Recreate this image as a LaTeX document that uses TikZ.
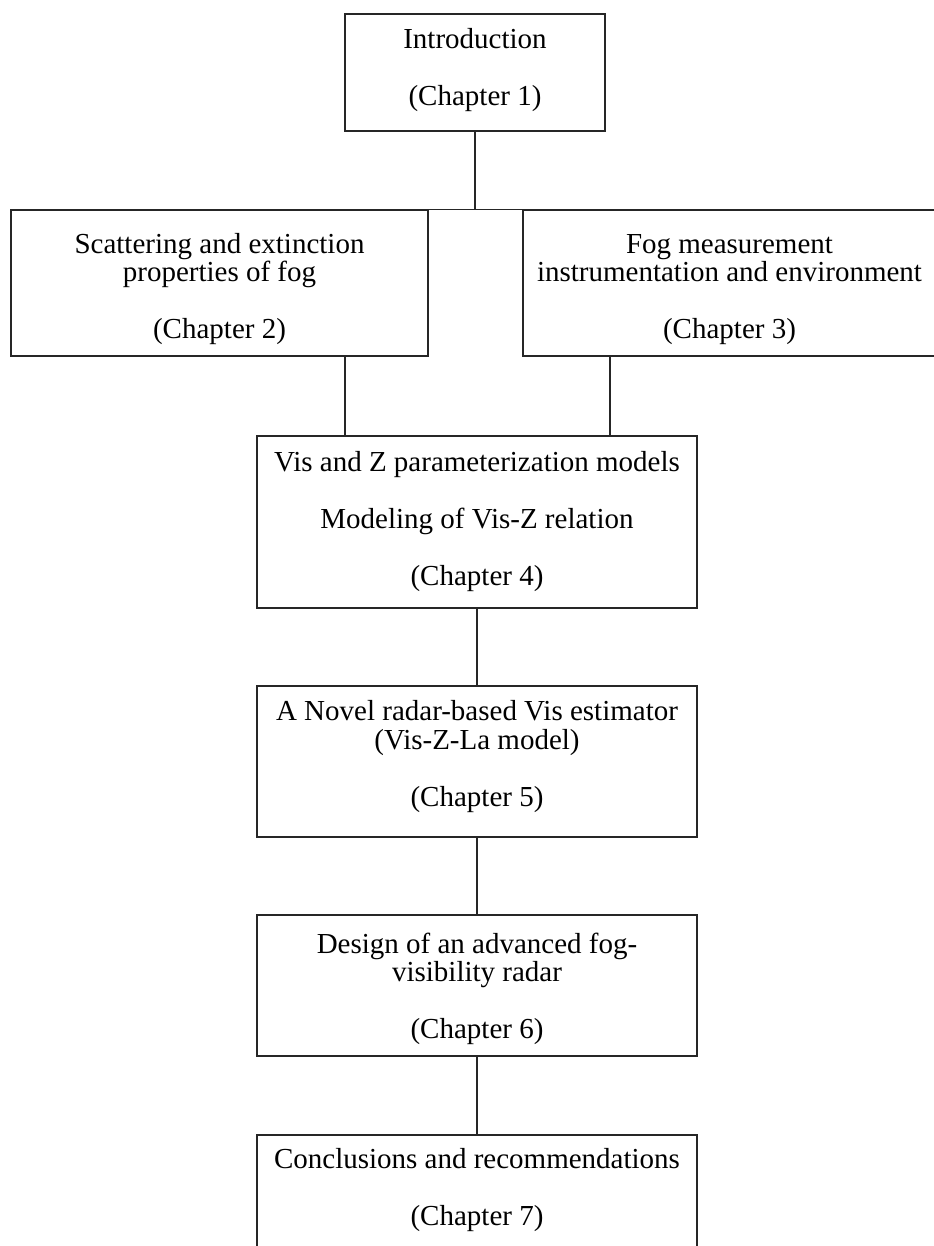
\documentclass[tikz,border=0pt]{standalone}
\usepackage{fontspec}
\setmainfont{Liberation Serif}
\newcommand{\toppad}[1]{\rule{0pt}{#1}}
\newcommand{\botpad}[1]{\rule[-#1]{0pt}{0pt}}
\begin{document}
\begin{tikzpicture}[x=1bp,y=-1bp,
  box/.style={draw=black!85, line width=1.4bp, rectangle, align=center,
    inner sep=0pt, font=\fontsize{29bp}{28.5bp}\selectfont},
  conn/.style={draw=black!85, line width=1.4bp}]
\useasboundingbox (0,0) rectangle (934,1246);
\node[box, minimum width=260bp, minimum height=117bp] (b1) at (475,72.5)
  {Introduction\\[28.5bp](Chapter 1)\botpad{12bp}};
\node[box, minimum width=417bp, minimum height=146bp] (b2) at (219.5,283)
  {\toppad{31.8bp}Scattering and extinction\\properties of fog\\[28.5bp](Chapter 2)};
\node[box, minimum width=413bp, minimum height=146bp] (b3) at (729.5,283)
  {\toppad{31.8bp}Fog measurement\\instrumentation and environment\\[28.5bp](Chapter 3)};
\node[box, minimum width=440bp, minimum height=172bp] (b4) at (477,522)
  {Vis and Z parameterization models\\[28.5bp]Modeling of Vis-Z relation\\[28.5bp](Chapter 4)};
\node[box, minimum width=440bp, minimum height=151bp] (b5) at (477,761.5)
  {A Novel radar-based Vis estimator\\(Vis-Z-La model)\\[28.5bp](Chapter 5)\botpad{16.3bp}};
\node[box, minimum width=440bp, minimum height=141bp] (b6) at (477,985.5)
  {\toppad{26.8bp}Design of an advanced fog-\\visibility radar\\[28.5bp](Chapter 6)};
\node[box, minimum width=440bp, minimum height=116bp] (b7) at (477,1193)
  {Conclusions and recommendations\\[28.5bp](Chapter 7)\botpad{12bp}};
\coordinate (j1) at (345,396);
\coordinate (j2) at (610,396);
\draw[conn] (b1.south) -- (b1.south |- b2.north);
\draw[conn] (b2.north east) -- (b3.north west);
\draw[conn] (j1 |- b2.south) -- (j1 |- b4.north);
\draw[conn] (j2 |- b3.south) -- (j2 |- b4.north);
\draw[conn] (b4.south) -- (b5.north);
\draw[conn] (b5.south) -- (b6.north);
\draw[conn] (b6.south) -- (b7.north);
\end{tikzpicture}
\end{document}
